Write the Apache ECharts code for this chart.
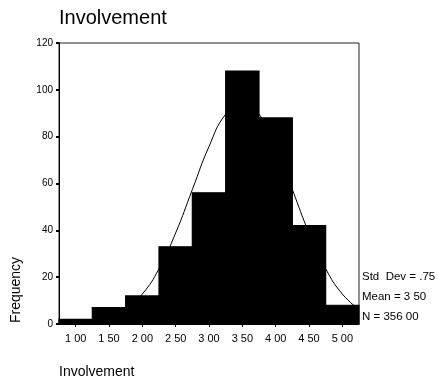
<!DOCTYPE html>
<html>
<head>
<meta charset="utf-8">
<title>Involvement</title>
<script src="https://cdn.jsdelivr.net/npm/echarts@6/dist/echarts.min.js"></script>
<style>
  html, body { margin: 0; padding: 0; background: #fff; }
  #chart { width: 438px; height: 387px; }
</style>
</head>
<body>
<div id="chart"></div>
<script>
// Histogram bins (class limits) and counts
const binLow = [0.75, 1.25, 1.75, 2.25, 2.75, 3.25, 3.75, 4.25, 4.75];
const binHigh = [1.25, 1.75, 2.25, 2.75, 3.25, 3.75, 4.25, 4.75, 5.25];
const frequency = [2, 7, 12, 33, 56, 108, 88, 42, 8];

// Fitted normal curve, sampled along the axis
const curveX = [0.75, 1.0, 1.25, 1.5, 1.75, 2.0, 2.25, 2.5, 2.75, 3.0, 3.25, 3.5,
                3.75, 4.0, 4.25, 4.5, 4.75, 5.0, 5.25];
const curveY = [0.1, 0.4, 1.1, 2.7, 6.2, 12.8, 23.6, 38.9, 57.4, 75.8, 89.6, 94.7,
                89.6, 75.8, 57.4, 38.9, 23.6, 12.8, 6.2];

// Axis ticks and labels
const xTickValues = [1.0, 1.5, 2.0, 2.5, 3.0, 3.5, 4.0, 4.5, 5.0];
const xTickLabels = ['1 00', '1 50', '2 00', '2 50', '3 00', '3 50', '4 00', '4 50', '5 00'];

// Summary statistics
const statLines = ['Std  Dev = .75', 'Mean = 3 50', 'N = 356 00'];

const FONT = 'Liberation Sans, Arial, sans-serif';

const chart = echarts.init(document.getElementById('chart'), null, { renderer: 'canvas' });

const barData = frequency.map((f, i) => [binLow[i], binHigh[i], f]);
const curveData = curveX.map((x, i) => [x, curveY[i]]);

const option = {
  animation: false,
  backgroundColor: '#fff',
  title: {
    text: 'Involvement',
    left: 54,
    top: 3,
    textStyle: { fontFamily: FONT, fontSize: 20, fontWeight: 'normal', color: '#000' }
  },
  grid: {
    left: 59, right: 79, top: 43, bottom: 63,
    show: true, borderColor: '#222', borderWidth: 1, backgroundColor: 'transparent'
  },
  xAxis: {
    type: 'value',
    min: 0.75,
    max: 5.25,
    splitLine: { show: false },
    axisLine: { show: true, lineStyle: { color: '#000', width: 1 } },
    axisTick: { show: true, customValues: xTickValues, length: 3, lineStyle: { color: '#000' } },
    axisLabel: {
      customValues: xTickValues,
      margin: 9,
      fontFamily: FONT, fontSize: 11, color: '#000',
      formatter: v => {
        const i = xTickValues.findIndex(t => Math.abs(t - v) < 1e-6);
        return i >= 0 ? xTickLabels[i] : '';
      }
    }
  },
  yAxis: {
    type: 'value',
    min: 0,
    max: 120,
    interval: 20,
    splitLine: { show: false },
    axisLine: { show: true, lineStyle: { color: '#000', width: 1 } },
    axisTick: { show: true, length: 3, lineStyle: { color: '#000', width: 2 } },
    axisLabel: { margin: 6, fontFamily: FONT, fontSize: 10, color: '#000' }
  },
  series: [
    {
      type: 'line',
      data: curveData,
      smooth: true,
      showSymbol: false,
      z: 1,
      lineStyle: { color: '#000', width: 1 }
    },
    {
      type: 'custom',
      z: 2,
      data: barData,
      encode: { x: [0, 1], y: 2 },
      renderItem: (params, api) => {
        const p0 = api.coord([api.value(0), api.value(2)]);
        const p1 = api.coord([api.value(1), 0]);
        return {
          type: 'rect',
          shape: { x: p0[0], y: p0[1], width: p1[0] - p0[0], height: p1[1] - p0[1] },
          style: { fill: '#000', stroke: '#000', lineWidth: 1.2 }
        };
      }
    }
  ],
  graphic: [
    {
      type: 'text',
      x: 16, y: 290,
      rotation: Math.PI / 2,
      style: {
        text: 'Frequency', fill: '#000', font: '14px ' + FONT,
        textAlign: 'center', textVerticalAlign: 'middle'
      }
    },
    {
      type: 'text',
      x: 59, y: 372,
      style: {
        text: 'Involvement', fill: '#000', font: '14px ' + FONT,
        textAlign: 'left', textVerticalAlign: 'middle'
      }
    }
  ].concat(statLines.map((s, i) => ({
    type: 'text',
    x: 362, y: 277 + i * 20,
    style: {
      text: s, fill: '#000', font: '11.5px ' + FONT,
      textAlign: 'left', textVerticalAlign: 'middle'
    }
  })))
};

chart.setOption(option);
</script>
</body>
</html>
